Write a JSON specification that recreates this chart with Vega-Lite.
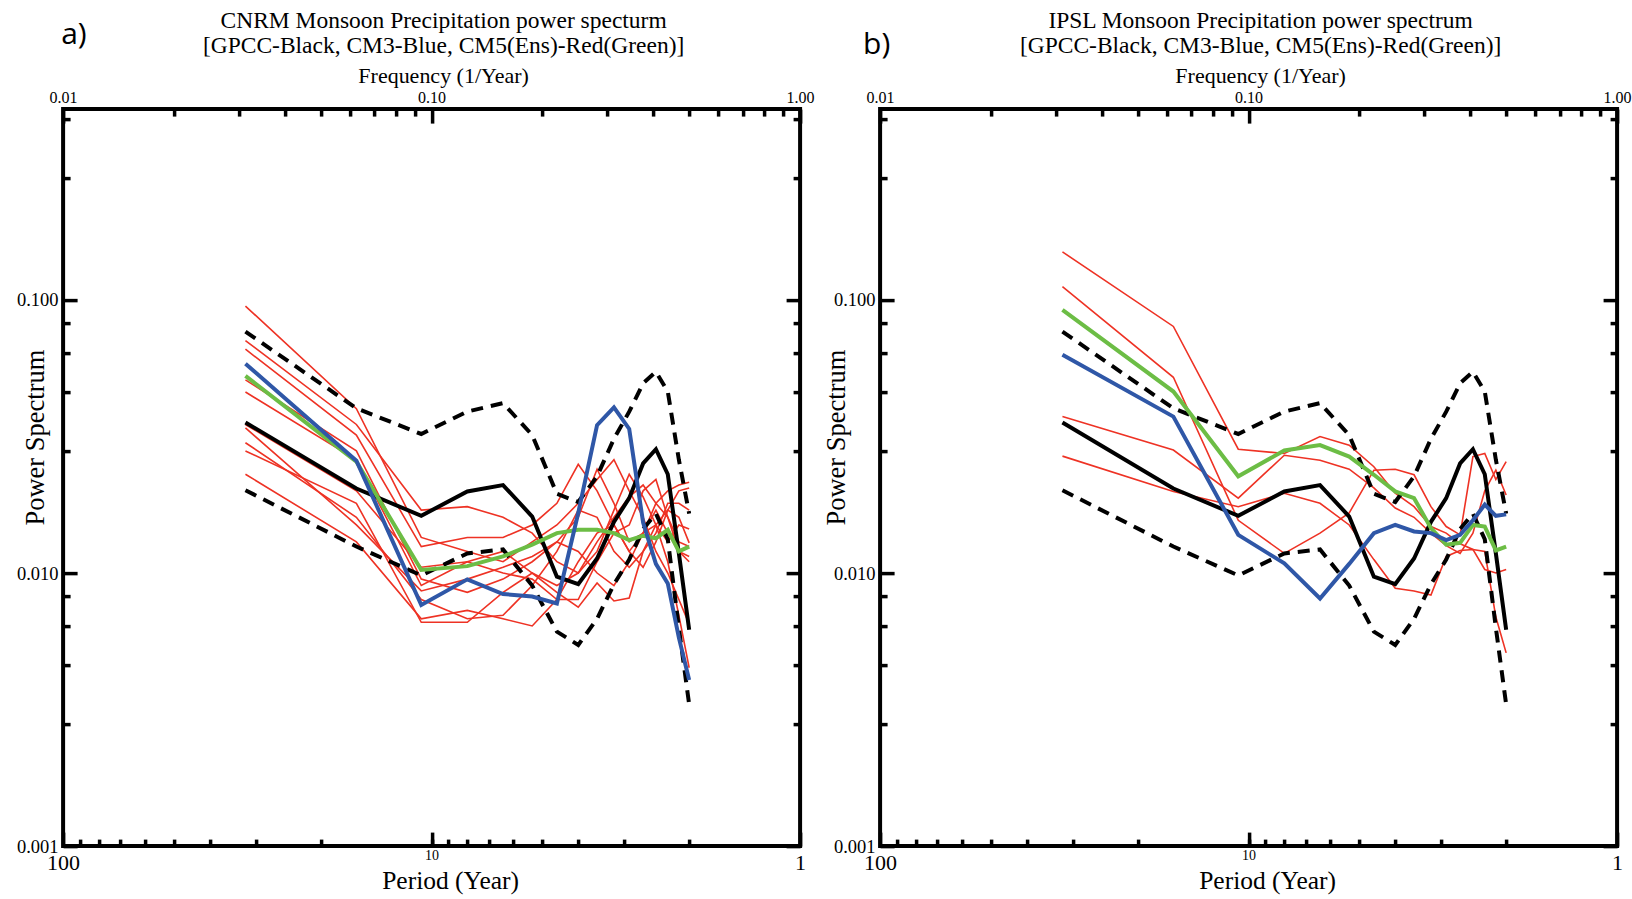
{
"$schema": "https://vega.github.io/schema/vega-lite/v6.json",
"background": "white",
"padding": {"left": 14.1, "top": 6.1, "right": 2, "bottom": 5},
"bounds": "flush",
"spacing": 80,
"config": {"view": {"stroke": "black", "strokeWidth": 4}, "axis": {"grid": false, "domain": false, "labelColor": "black", "titleColor": "black", "tickColor": "black", "titleFontWeight": "normal", "labelFlush": false, "labelOverlap": false, "labelBound": false}},
"datasets": {
"obs": [
{"series":"GPCC","period":32,"power":0.0356},{"series":"GPCC","period":16,"power":0.0204},{"series":"GPCC","period":10.667,"power":0.0162},{"series":"GPCC","period":8,"power":0.0199},{"series":"GPCC","period":6.4,"power":0.021},{"series":"GPCC","period":5.333,"power":0.0161},{"series":"GPCC","period":4.571,"power":0.0097},{"series":"GPCC","period":4,"power":0.0091},{"series":"GPCC","period":3.556,"power":0.0113},{"series":"GPCC","period":3.2,"power":0.0154},{"series":"GPCC","period":2.909,"power":0.0188},{"series":"GPCC","period":2.667,"power":0.0252},{"series":"GPCC","period":2.462,"power":0.0284},{"series":"GPCC","period":2.286,"power":0.023},{"series":"GPCC","period":2.133,"power":0.0118},{"series":"GPCC","period":2,"power":0.0062},
{"series":"Upper","period":32,"power":0.0766},{"series":"Upper","period":16,"power":0.0401},{"series":"Upper","period":10.667,"power":0.0323},{"series":"Upper","period":8,"power":0.039},{"series":"Upper","period":6.4,"power":0.0419},{"series":"Upper","period":5.333,"power":0.032},{"series":"Upper","period":4.571,"power":0.0195},{"series":"Upper","period":4,"power":0.0182},{"series":"Upper","period":3.556,"power":0.0226},{"series":"Upper","period":3.2,"power":0.031},{"series":"Upper","period":2.909,"power":0.039},{"series":"Upper","period":2.667,"power":0.0495},{"series":"Upper","period":2.462,"power":0.0546},{"series":"Upper","period":2.286,"power":0.0462},{"series":"Upper","period":2.133,"power":0.026},{"series":"Upper","period":2,"power":0.0165},
{"series":"Lower","period":32,"power":0.0201},{"series":"Lower","period":16,"power":0.0125},{"series":"Lower","period":10.667,"power":0.0098},{"series":"Lower","period":8,"power":0.0118},{"series":"Lower","period":6.4,"power":0.0122},{"series":"Lower","period":5.333,"power":0.009},{"series":"Lower","period":4.571,"power":0.0061},{"series":"Lower","period":4,"power":0.00545},{"series":"Lower","period":3.556,"power":0.0068},{"series":"Lower","period":3.2,"power":0.0091},{"series":"Lower","period":2.909,"power":0.0112},{"series":"Lower","period":2.667,"power":0.0145},{"series":"Lower","period":2.462,"power":0.0165},{"series":"Lower","period":2.286,"power":0.0133},{"series":"Lower","period":2.133,"power":0.0063},{"series":"Lower","period":2,"power":0.0033}
],
"cnrm": [
{"series":"CM3","period":32,"power":0.0584},{"series":"CM3","period":16,"power":0.0258},{"series":"CM3","period":10.667,"power":0.00764},{"series":"CM3","period":8,"power":0.00948},{"series":"CM3","period":6.4,"power":0.00838},{"series":"CM3","period":5.333,"power":0.0082},{"series":"CM3","period":4.571,"power":0.00774},{"series":"CM3","period":4,"power":0.0166},{"series":"CM3","period":3.556,"power":0.0348},{"series":"CM3","period":3.2,"power":0.0404},{"series":"CM3","period":2.909,"power":0.0337},{"series":"CM3","period":2.667,"power":0.0153},{"series":"CM3","period":2.462,"power":0.0108},{"series":"CM3","period":2.286,"power":0.00916},{"series":"CM3","period":2.133,"power":0.0058},{"series":"CM3","period":2,"power":0.00406},
{"series":"CM5 ensemble","period":32,"power":0.0527},{"series":"CM5 ensemble","period":16,"power":0.0256},{"series":"CM5 ensemble","period":10.667,"power":0.01026},{"series":"CM5 ensemble","period":8,"power":0.0106},{"series":"CM5 ensemble","period":6.4,"power":0.0115},{"series":"CM5 ensemble","period":5.333,"power":0.0127},{"series":"CM5 ensemble","period":4.571,"power":0.014},{"series":"CM5 ensemble","period":4,"power":0.0144},{"series":"CM5 ensemble","period":3.556,"power":0.0144},{"series":"CM5 ensemble","period":3.2,"power":0.014},{"series":"CM5 ensemble","period":2.909,"power":0.0132},{"series":"CM5 ensemble","period":2.667,"power":0.0137},{"series":"CM5 ensemble","period":2.462,"power":0.0134},{"series":"CM5 ensemble","period":2.286,"power":0.0144},{"series":"CM5 ensemble","period":2.133,"power":0.012},{"series":"CM5 ensemble","period":2,"power":0.0125},
{"series":"CM5 r1","period":32,"power":0.095},{"series":"CM5 r1","period":16,"power":0.04},{"series":"CM5 r1","period":10.667,"power":0.0135},{"series":"CM5 r1","period":8,"power":0.012},{"series":"CM5 r1","period":6.4,"power":0.011},{"series":"CM5 r1","period":5.333,"power":0.013},{"series":"CM5 r1","period":4.571,"power":0.015},{"series":"CM5 r1","period":4,"power":0.018},{"series":"CM5 r1","period":3.556,"power":0.022},{"series":"CM5 r1","period":3.2,"power":0.026},{"series":"CM5 r1","period":2.909,"power":0.02},{"series":"CM5 r1","period":2.667,"power":0.016},{"series":"CM5 r1","period":2.462,"power":0.012},{"series":"CM5 r1","period":2.286,"power":0.01},{"series":"CM5 r1","period":2.133,"power":0.008},{"series":"CM5 r1","period":2,"power":0.0065},
{"series":"CM5 r2","period":32,"power":0.071},{"series":"CM5 r2","period":16,"power":0.035},{"series":"CM5 r2","period":10.667,"power":0.017},{"series":"CM5 r2","period":8,"power":0.0175},{"series":"CM5 r2","period":6.4,"power":0.016},{"series":"CM5 r2","period":5.333,"power":0.014},{"series":"CM5 r2","period":4.571,"power":0.011},{"series":"CM5 r2","period":4,"power":0.01},{"series":"CM5 r2","period":3.556,"power":0.013},{"series":"CM5 r2","period":3.2,"power":0.016},{"series":"CM5 r2","period":2.909,"power":0.019},{"series":"CM5 r2","period":2.667,"power":0.021},{"series":"CM5 r2","period":2.462,"power":0.018},{"series":"CM5 r2","period":2.286,"power":0.02},{"series":"CM5 r2","period":2.133,"power":0.021},{"series":"CM5 r2","period":2,"power":0.0215},
{"series":"CM5 r3","period":32,"power":0.066},{"series":"CM5 r3","period":16,"power":0.032},{"series":"CM5 r3","period":10.667,"power":0.0125},{"series":"CM5 r3","period":8,"power":0.0135},{"series":"CM5 r3","period":6.4,"power":0.0135},{"series":"CM5 r3","period":5.333,"power":0.015},{"series":"CM5 r3","period":4.571,"power":0.018},{"series":"CM5 r3","period":4,"power":0.025},{"series":"CM5 r3","period":3.556,"power":0.02},{"series":"CM5 r3","period":3.2,"power":0.015},{"series":"CM5 r3","period":2.909,"power":0.012},{"series":"CM5 r3","period":2.667,"power":0.0105},{"series":"CM5 r3","period":2.462,"power":0.013},{"series":"CM5 r3","period":2.286,"power":0.017},{"series":"CM5 r3","period":2.133,"power":0.02},{"series":"CM5 r3","period":2,"power":0.0205},
{"series":"CM5 r4","period":32,"power":0.051},{"series":"CM5 r4","period":16,"power":0.028},{"series":"CM5 r4","period":10.667,"power":0.0095},{"series":"CM5 r4","period":8,"power":0.0085},{"series":"CM5 r4","period":6.4,"power":0.0095},{"series":"CM5 r4","period":5.333,"power":0.011},{"series":"CM5 r4","period":4.571,"power":0.013},{"series":"CM5 r4","period":4,"power":0.016},{"series":"CM5 r4","period":3.556,"power":0.024},{"series":"CM5 r4","period":3.2,"power":0.018},{"series":"CM5 r4","period":2.909,"power":0.013},{"series":"CM5 r4","period":2.667,"power":0.014},{"series":"CM5 r4","period":2.462,"power":0.017},{"series":"CM5 r4","period":2.286,"power":0.014},{"series":"CM5 r4","period":2.133,"power":0.012},{"series":"CM5 r4","period":2,"power":0.0115},
{"series":"CM5 r5","period":32,"power":0.046},{"series":"CM5 r5","period":16,"power":0.026},{"series":"CM5 r5","period":10.667,"power":0.009},{"series":"CM5 r5","period":8,"power":0.011},{"series":"CM5 r5","period":6.4,"power":0.012},{"series":"CM5 r5","period":5.333,"power":0.01},{"series":"CM5 r5","period":4.571,"power":0.009},{"series":"CM5 r5","period":4,"power":0.01},{"series":"CM5 r5","period":3.556,"power":0.012},{"series":"CM5 r5","period":3.2,"power":0.017},{"series":"CM5 r5","period":2.909,"power":0.023},{"series":"CM5 r5","period":2.667,"power":0.019},{"series":"CM5 r5","period":2.462,"power":0.015},{"series":"CM5 r5","period":2.286,"power":0.013},{"series":"CM5 r5","period":2.133,"power":0.015},{"series":"CM5 r5","period":2,"power":0.0145},
{"series":"CM5 r6","period":32,"power":0.035},{"series":"CM5 r6","period":16,"power":0.02},{"series":"CM5 r6","period":10.667,"power":0.0105},{"series":"CM5 r6","period":8,"power":0.011},{"series":"CM5 r6","period":6.4,"power":0.01},{"series":"CM5 r6","period":5.333,"power":0.0095},{"series":"CM5 r6","period":4.571,"power":0.008},{"series":"CM5 r6","period":4,"power":0.008},{"series":"CM5 r6","period":3.556,"power":0.011},{"series":"CM5 r6","period":3.2,"power":0.014},{"series":"CM5 r6","period":2.909,"power":0.015},{"series":"CM5 r6","period":2.667,"power":0.02},{"series":"CM5 r6","period":2.462,"power":0.022},{"series":"CM5 r6","period":2.286,"power":0.016},{"series":"CM5 r6","period":2.133,"power":0.012},{"series":"CM5 r6","period":2,"power":0.011},
{"series":"CM5 r7","period":32,"power":0.03},{"series":"CM5 r7","period":16,"power":0.016},{"series":"CM5 r7","period":10.667,"power":0.008},{"series":"CM5 r7","period":8,"power":0.0068},{"series":"CM5 r7","period":6.4,"power":0.007},{"series":"CM5 r7","period":5.333,"power":0.009},{"series":"CM5 r7","period":4.571,"power":0.012},{"series":"CM5 r7","period":4,"power":0.017},{"series":"CM5 r7","period":3.556,"power":0.016},{"series":"CM5 r7","period":3.2,"power":0.012},{"series":"CM5 r7","period":2.909,"power":0.0105},{"series":"CM5 r7","period":2.667,"power":0.012},{"series":"CM5 r7","period":2.462,"power":0.014},{"series":"CM5 r7","period":2.286,"power":0.018},{"series":"CM5 r7","period":2.133,"power":0.018},{"series":"CM5 r7","period":2,"power":0.017},
{"series":"CM5 r8","period":32,"power":0.028},{"series":"CM5 r8","period":16,"power":0.018},{"series":"CM5 r8","period":10.667,"power":0.0066},{"series":"CM5 r8","period":8,"power":0.0066},{"series":"CM5 r8","period":6.4,"power":0.0085},{"series":"CM5 r8","period":5.333,"power":0.01},{"series":"CM5 r8","period":4.571,"power":0.0085},{"series":"CM5 r8","period":4,"power":0.0075},{"series":"CM5 r8","period":3.556,"power":0.0092},{"series":"CM5 r8","period":3.2,"power":0.0079},{"series":"CM5 r8","period":2.909,"power":0.0081},{"series":"CM5 r8","period":2.667,"power":0.012},{"series":"CM5 r8","period":2.462,"power":0.015},{"series":"CM5 r8","period":2.286,"power":0.011},{"series":"CM5 r8","period":2.133,"power":0.007},{"series":"CM5 r8","period":2,"power":0.0045},
{"series":"CM5 r9","period":32,"power":0.023},{"series":"CM5 r9","period":16,"power":0.013},{"series":"CM5 r9","period":10.667,"power":0.0068},{"series":"CM5 r9","period":8,"power":0.0073},{"series":"CM5 r9","period":6.4,"power":0.0068},{"series":"CM5 r9","period":5.333,"power":0.0064},{"series":"CM5 r9","period":4.571,"power":0.008},{"series":"CM5 r9","period":4,"power":0.011},{"series":"CM5 r9","period":3.556,"power":0.014},{"series":"CM5 r9","period":3.2,"power":0.015},{"series":"CM5 r9","period":2.909,"power":0.012},{"series":"CM5 r9","period":2.667,"power":0.014},{"series":"CM5 r9","period":2.462,"power":0.018},{"series":"CM5 r9","period":2.286,"power":0.016},{"series":"CM5 r9","period":2.133,"power":0.013},{"series":"CM5 r9","period":2,"power":0.0125},
{"series":"CM5 r10","period":32,"power":0.034},{"series":"CM5 r10","period":16,"power":0.015},{"series":"CM5 r10","period":10.667,"power":0.0086},{"series":"CM5 r10","period":8,"power":0.0095},{"series":"CM5 r10","period":6.4,"power":0.0105},{"series":"CM5 r10","period":5.333,"power":0.0115},{"series":"CM5 r10","period":4.571,"power":0.013},{"series":"CM5 r10","period":4,"power":0.012},{"series":"CM5 r10","period":3.556,"power":0.01},{"series":"CM5 r10","period":3.2,"power":0.009},{"series":"CM5 r10","period":2.909,"power":0.011},{"series":"CM5 r10","period":2.667,"power":0.014},{"series":"CM5 r10","period":2.462,"power":0.015},{"series":"CM5 r10","period":2.286,"power":0.017},{"series":"CM5 r10","period":2.133,"power":0.016},{"series":"CM5 r10","period":2,"power":0.0129}
],
"ipsl": [
{"series":"CM3","period":32,"power":0.063},{"series":"CM3","period":16,"power":0.0374},{"series":"CM3","period":10.667,"power":0.0138},{"series":"CM3","period":8,"power":0.01085},{"series":"CM3","period":6.4,"power":0.00807},{"series":"CM3","period":5.333,"power":0.0108},{"series":"CM3","period":4.571,"power":0.014},{"series":"CM3","period":4,"power":0.015},{"series":"CM3","period":3.556,"power":0.0142},{"series":"CM3","period":3.2,"power":0.014},{"series":"CM3","period":2.909,"power":0.0132},{"series":"CM3","period":2.667,"power":0.0138},{"series":"CM3","period":2.462,"power":0.0156},{"series":"CM3","period":2.286,"power":0.0178},{"series":"CM3","period":2.133,"power":0.0162},{"series":"CM3","period":2,"power":0.0164},
{"series":"CM5 ensemble","period":32,"power":0.0919},{"series":"CM5 ensemble","period":16,"power":0.0462},{"series":"CM5 ensemble","period":10.667,"power":0.0226},{"series":"CM5 ensemble","period":8,"power":0.0281},{"series":"CM5 ensemble","period":6.4,"power":0.0294},{"series":"CM5 ensemble","period":5.333,"power":0.0267},{"series":"CM5 ensemble","period":4.571,"power":0.0229},{"series":"CM5 ensemble","period":4,"power":0.0199},{"series":"CM5 ensemble","period":3.556,"power":0.0188},{"series":"CM5 ensemble","period":3.2,"power":0.0146},{"series":"CM5 ensemble","period":2.909,"power":0.0127},{"series":"CM5 ensemble","period":2.667,"power":0.0129},{"series":"CM5 ensemble","period":2.462,"power":0.015},{"series":"CM5 ensemble","period":2.286,"power":0.0148},{"series":"CM5 ensemble","period":2.133,"power":0.0121},{"series":"CM5 ensemble","period":2,"power":0.0125},
{"series":"CM5 r1","period":32,"power":0.15},{"series":"CM5 r1","period":16,"power":0.08},{"series":"CM5 r1","period":10.667,"power":0.0284},{"series":"CM5 r1","period":8,"power":0.0274},{"series":"CM5 r1","period":6.4,"power":0.0316},{"series":"CM5 r1","period":5.333,"power":0.0294},{"series":"CM5 r1","period":4.571,"power":0.0245},{"series":"CM5 r1","period":4,"power":0.0196},{"series":"CM5 r1","period":3.556,"power":0.0175},{"series":"CM5 r1","period":3.2,"power":0.0148},{"series":"CM5 r1","period":2.909,"power":0.014},{"series":"CM5 r1","period":2.667,"power":0.0128},{"series":"CM5 r1","period":2.462,"power":0.0122},{"series":"CM5 r1","period":2.286,"power":0.0103},{"series":"CM5 r1","period":2.133,"power":0.01},{"series":"CM5 r1","period":2,"power":0.0103},
{"series":"CM5 r2","period":32,"power":0.112},{"series":"CM5 r2","period":16,"power":0.0521},{"series":"CM5 r2","period":10.667,"power":0.0156},{"series":"CM5 r2","period":8,"power":0.0118},{"series":"CM5 r2","period":6.4,"power":0.014},{"series":"CM5 r2","period":5.333,"power":0.0166},{"series":"CM5 r2","period":4.571,"power":0.0238},{"series":"CM5 r2","period":4,"power":0.024},{"series":"CM5 r2","period":3.556,"power":0.0229},{"series":"CM5 r2","period":3.2,"power":0.0175},{"series":"CM5 r2","period":2.909,"power":0.0148},{"series":"CM5 r2","period":2.667,"power":0.0138},{"series":"CM5 r2","period":2.462,"power":0.0267},{"series":"CM5 r2","period":2.286,"power":0.0274},{"series":"CM5 r2","period":2.133,"power":0.022},{"series":"CM5 r2","period":2,"power":0.0256},
{"series":"CM5 r3","period":32,"power":0.0374},{"series":"CM5 r3","period":16,"power":0.0282},{"series":"CM5 r3","period":10.667,"power":0.0188},{"series":"CM5 r3","period":8,"power":0.027},{"series":"CM5 r3","period":6.4,"power":0.0259},{"series":"CM5 r3","period":5.333,"power":0.024},{"series":"CM5 r3","period":4.571,"power":0.0205},{"series":"CM5 r3","period":4,"power":0.0173},{"series":"CM5 r3","period":3.556,"power":0.016},{"series":"CM5 r3","period":3.2,"power":0.014},{"series":"CM5 r3","period":2.909,"power":0.0126},{"series":"CM5 r3","period":2.667,"power":0.0118},{"series":"CM5 r3","period":2.462,"power":0.014},{"series":"CM5 r3","period":2.286,"power":0.02},{"series":"CM5 r3","period":2.133,"power":0.0238},{"series":"CM5 r3","period":2,"power":0.0193},
{"series":"CM5 r4","period":32,"power":0.0268},{"series":"CM5 r4","period":16,"power":0.0199},{"series":"CM5 r4","period":10.667,"power":0.0175},{"series":"CM5 r4","period":8,"power":0.0196},{"series":"CM5 r4","period":6.4,"power":0.018},{"series":"CM5 r4","period":5.333,"power":0.015},{"series":"CM5 r4","period":4.571,"power":0.0112},{"series":"CM5 r4","period":4,"power":0.0088},{"series":"CM5 r4","period":3.556,"power":0.0086},{"series":"CM5 r4","period":3.2,"power":0.0083},{"series":"CM5 r4","period":2.909,"power":0.0115},{"series":"CM5 r4","period":2.667,"power":0.0121},{"series":"CM5 r4","period":2.462,"power":0.0122},{"series":"CM5 r4","period":2.286,"power":0.012},{"series":"CM5 r4","period":2.133,"power":0.0069},{"series":"CM5 r4","period":2,"power":0.0051}
]
},
"hconcat": [
{
"width": 737, "height": 737,
"resolve": {"axis": {"x": "independent", "y": "independent"}},
"layer": [
{"data": {"name": "cnrm"}, "transform": [{"filter": "indexof(datum.series, 'CM5 r') == 0"}], "mark": {"type": "line", "color": "#EE3224", "strokeWidth": 1.6}, "encoding": {"x": {"field": "period", "type": "quantitative", "scale": {"type": "log", "domain": [1, 100], "reverse": true, "nice": false}, "axis": null}, "y": {"field": "power", "type": "quantitative", "scale": {"type": "log", "domain": [0.001, 0.5], "nice": false}, "axis": null}, "detail": {"field": "series"}}},
{"data": {"name": "obs"}, "transform": [{"filter": "datum.series != 'GPCC'"}], "mark": {"type": "line", "color": "black", "strokeWidth": 4, "strokeDash": [12, 8]}, "encoding": {"x": {"field": "period", "type": "quantitative", "scale": {"type": "log", "domain": [1, 100], "reverse": true, "nice": false}, "axis": null}, "y": {"field": "power", "type": "quantitative", "scale": {"type": "log", "domain": [0.001, 0.5], "nice": false}, "axis": null}, "detail": {"field": "series"}}},
{"data": {"name": "obs"}, "transform": [{"filter": "datum.series == 'GPCC'"}], "mark": {"type": "line", "color": "black", "strokeWidth": 4}, "encoding": {"x": {"field": "period", "type": "quantitative", "scale": {"type": "log", "domain": [1, 100], "reverse": true, "nice": false}, "axis": null}, "y": {"field": "power", "type": "quantitative", "scale": {"type": "log", "domain": [0.001, 0.5], "nice": false}, "axis": null}}},
{"data": {"name": "cnrm"}, "transform": [{"filter": "datum.series == 'CM5 ensemble'"}], "mark": {"type": "line", "color": "#6CBD45", "strokeWidth": 4}, "encoding": {"x": {"field": "period", "type": "quantitative", "scale": {"type": "log", "domain": [1, 100], "reverse": true, "nice": false}, "axis": null}, "y": {"field": "power", "type": "quantitative", "scale": {"type": "log", "domain": [0.001, 0.5], "nice": false}, "axis": null}}},
{"data": {"name": "cnrm"}, "transform": [{"filter": "datum.series == 'CM3'"}], "mark": {"type": "line", "color": "#2F57A7", "strokeWidth": 4}, "encoding": {"x": {"field": "period", "type": "quantitative", "scale": {"type": "log", "domain": [1, 100], "reverse": true, "nice": false}, "axis": null}, "y": {"field": "power", "type": "quantitative", "scale": {"type": "log", "domain": [0.001, 0.5], "nice": false}, "axis": null}}},
{"data": {"name": "obs"}, "mark": {"type": "point", "opacity": 0}, "encoding": {
 "x": {"field": "period", "type": "quantitative", "scale": {"type": "log", "domain": [1, 100], "reverse": true, "nice": false}, "axis": {"orient": "bottom", "values": [100, 10, 1], "tickSize": -14, "tickWidth": 3.5, "labelExpr": "datum.value == 100 ? '100' : datum.value == 10 ? '' : '1'", "labelFont": "Liberation Serif", "labelFontSize": 22, "labelBaseline": "alphabetic", "labelPadding": 37.5, "title": "Period (Year)", "titleFont": "Liberation Serif", "titleFontSize": 25.5, "titleX": 387, "titleY": 42.5, "titleBaseline": "alphabetic", "titleAlign": "center"}},
 "y": {"field": "power", "type": "quantitative", "scale": {"type": "log", "domain": [0.001, 0.5], "nice": false}, "axis": {"orient": "left", "values": [0.001, 0.01, 0.1], "format": ".3f", "tickSize": -14, "tickWidth": 3.5, "labelFont": "Liberation Serif", "labelFontSize": 18.5, "labelPadding": 19, "labelBaseline": "middle", "title": "Power Spectrum", "titleFont": "Liberation Serif", "titleFontSize": 26.5, "titleX": -28, "titleY": 328, "titleAngle": -90, "titleBaseline": "middle", "titleAlign": "center"}}}},
{"data": {"name": "obs"}, "mark": {"type": "point", "opacity": 0}, "encoding": {
 "x": {"field": "period", "type": "quantitative", "scale": {"type": "log", "domain": [1, 100], "reverse": true, "nice": false}, "axis": {"orient": "bottom", "values": [90, 80, 70, 60, 50, 40, 30, 20, 10, 9, 8, 7, 6, 5, 4, 3, 2], "tickSize": -7, "tickWidth": 3.5, "labels": true, "labelExpr": "datum.value == 10 ? '10' : ''", "labelFont": "Liberation Serif", "labelFontSize": 14, "labelBaseline": "alphabetic", "labelPadding": 20, "title": null}},
 "y": {"field": "power", "type": "quantitative", "scale": {"type": "log", "domain": [0.001, 0.5], "nice": false}, "axis": {"orient": "left", "values": [0.46, 0.28, 0.082, 0.064, 0.046, 0.028, 0.0082, 0.0064, 0.0046, 0.0028], "tickSize": -7, "tickWidth": 3.5, "labels": false, "title": null}}}},
{"data": {"name": "obs"}, "mark": {"type": "point", "opacity": 0}, "encoding": {
 "x": {"field": "period", "type": "quantitative", "scale": {"type": "log", "domain": [1, 100], "reverse": true, "nice": false}, "axis": {"orient": "top", "values": [100, 10, 1], "tickSize": -14, "tickWidth": 3.5, "labelExpr": "datum.value == 100 ? '0.01' : datum.value == 10 ? '0.10' : '1.00'", "labelFont": "Liberation Serif", "labelFontSize": 16, "labelBaseline": "alphabetic", "labelPadding": 20.3, "title": "Frequency (1/Year)", "titleFont": "Liberation Serif", "titleFontSize": 22, "titleX": 380, "titleY": -26.5, "titleBaseline": "alphabetic", "titleAlign": "center"}},
 "y": {"field": "power", "type": "quantitative", "scale": {"type": "log", "domain": [0.001, 0.5], "nice": false}, "axis": {"orient": "right", "values": [0.001, 0.01, 0.1], "tickSize": -14, "tickWidth": 3.5, "labels": false, "title": null}}}},
{"data": {"name": "obs"}, "mark": {"type": "point", "opacity": 0}, "encoding": {
 "x": {"field": "period", "type": "quantitative", "scale": {"type": "log", "domain": [1, 100], "reverse": true, "nice": false}, "axis": {"orient": "top", "values": [50, 33.333, 25, 20, 16.667, 14.286, 12.5, 11.111, 5, 3.333, 2.5, 2, 1.667, 1.429, 1.25, 1.111], "tickSize": -7, "tickWidth": 3.5, "labels": false, "title": ["CNRM Monsoon Precipitation power specturm", "[GPCC-Black, CM3-Blue, CM5(Ens)-Red(Green)]"], "titleFont": "Liberation Serif", "titleFontSize": 23.5, "titleLineHeight": 25, "titleX": 380, "titleY": -81.5, "titleBaseline": "alphabetic", "titleAlign": "center"}},
 "y": {"field": "power", "type": "quantitative", "scale": {"type": "log", "domain": [0.001, 0.5], "nice": false}, "axis": {"orient": "right", "values": [0.46, 0.28, 0.082, 0.064, 0.046, 0.028, 0.0082, 0.0064, 0.0046, 0.0028], "tickSize": -7, "tickWidth": 3.5, "labels": false, "title": null}}}},
{"data": {"name": "obs"}, "mark": {"type": "point", "opacity": 0}, "encoding": {
 "x": {"field": "period", "type": "quantitative", "scale": {"type": "log", "domain": [1, 100], "reverse": true, "nice": false}, "axis": {"orient": "top", "ticks": false, "labels": false, "title": "a)", "titleFont": "Open Sans", "titleFontSize": 30, "titleX": -2.4, "titleY": -65.3, "titleBaseline": "alphabetic", "titleAlign": "left"}},
 "y": {"field": "power", "type": "quantitative", "scale": {"type": "log", "domain": [0.001, 0.5], "nice": false}, "axis": null}}}
]
},
{
"width": 737, "height": 737,
"resolve": {"axis": {"x": "independent", "y": "independent"}},
"layer": [
{"data": {"name": "ipsl"}, "transform": [{"filter": "indexof(datum.series, 'CM5 r') == 0"}], "mark": {"type": "line", "color": "#EE3224", "strokeWidth": 1.6}, "encoding": {"x": {"field": "period", "type": "quantitative", "scale": {"type": "log", "domain": [1, 100], "reverse": true, "nice": false}, "axis": null}, "y": {"field": "power", "type": "quantitative", "scale": {"type": "log", "domain": [0.001, 0.5], "nice": false}, "axis": null}, "detail": {"field": "series"}}},
{"data": {"name": "obs"}, "transform": [{"filter": "datum.series != 'GPCC'"}], "mark": {"type": "line", "color": "black", "strokeWidth": 4, "strokeDash": [12, 8]}, "encoding": {"x": {"field": "period", "type": "quantitative", "scale": {"type": "log", "domain": [1, 100], "reverse": true, "nice": false}, "axis": null}, "y": {"field": "power", "type": "quantitative", "scale": {"type": "log", "domain": [0.001, 0.5], "nice": false}, "axis": null}, "detail": {"field": "series"}}},
{"data": {"name": "obs"}, "transform": [{"filter": "datum.series == 'GPCC'"}], "mark": {"type": "line", "color": "black", "strokeWidth": 4}, "encoding": {"x": {"field": "period", "type": "quantitative", "scale": {"type": "log", "domain": [1, 100], "reverse": true, "nice": false}, "axis": null}, "y": {"field": "power", "type": "quantitative", "scale": {"type": "log", "domain": [0.001, 0.5], "nice": false}, "axis": null}}},
{"data": {"name": "ipsl"}, "transform": [{"filter": "datum.series == 'CM5 ensemble'"}], "mark": {"type": "line", "color": "#6CBD45", "strokeWidth": 4}, "encoding": {"x": {"field": "period", "type": "quantitative", "scale": {"type": "log", "domain": [1, 100], "reverse": true, "nice": false}, "axis": null}, "y": {"field": "power", "type": "quantitative", "scale": {"type": "log", "domain": [0.001, 0.5], "nice": false}, "axis": null}}},
{"data": {"name": "ipsl"}, "transform": [{"filter": "datum.series == 'CM3'"}], "mark": {"type": "line", "color": "#2F57A7", "strokeWidth": 4}, "encoding": {"x": {"field": "period", "type": "quantitative", "scale": {"type": "log", "domain": [1, 100], "reverse": true, "nice": false}, "axis": null}, "y": {"field": "power", "type": "quantitative", "scale": {"type": "log", "domain": [0.001, 0.5], "nice": false}, "axis": null}}},
{"data": {"name": "obs"}, "mark": {"type": "point", "opacity": 0}, "encoding": {
 "x": {"field": "period", "type": "quantitative", "scale": {"type": "log", "domain": [1, 100], "reverse": true, "nice": false}, "axis": {"orient": "bottom", "values": [100, 10, 1], "tickSize": -14, "tickWidth": 3.5, "labelExpr": "datum.value == 100 ? '100' : datum.value == 10 ? '' : '1'", "labelFont": "Liberation Serif", "labelFontSize": 22, "labelBaseline": "alphabetic", "labelPadding": 37.5, "title": "Period (Year)", "titleFont": "Liberation Serif", "titleFontSize": 25.5, "titleX": 387, "titleY": 42.5, "titleBaseline": "alphabetic", "titleAlign": "center"}},
 "y": {"field": "power", "type": "quantitative", "scale": {"type": "log", "domain": [0.001, 0.5], "nice": false}, "axis": {"orient": "left", "values": [0.001, 0.01, 0.1], "format": ".3f", "tickSize": -14, "tickWidth": 3.5, "labelFont": "Liberation Serif", "labelFontSize": 18.5, "labelPadding": 19, "labelBaseline": "middle", "title": "Power Spectrum", "titleFont": "Liberation Serif", "titleFontSize": 26.5, "titleX": -44, "titleY": 328, "titleAngle": -90, "titleBaseline": "middle", "titleAlign": "center"}}}},
{"data": {"name": "obs"}, "mark": {"type": "point", "opacity": 0}, "encoding": {
 "x": {"field": "period", "type": "quantitative", "scale": {"type": "log", "domain": [1, 100], "reverse": true, "nice": false}, "axis": {"orient": "bottom", "values": [90, 80, 70, 60, 50, 40, 30, 20, 10, 9, 8, 7, 6, 5, 4, 3, 2], "tickSize": -7, "tickWidth": 3.5, "labels": true, "labelExpr": "datum.value == 10 ? '10' : ''", "labelFont": "Liberation Serif", "labelFontSize": 14, "labelBaseline": "alphabetic", "labelPadding": 20, "title": null}},
 "y": {"field": "power", "type": "quantitative", "scale": {"type": "log", "domain": [0.001, 0.5], "nice": false}, "axis": {"orient": "left", "values": [0.46, 0.28, 0.082, 0.064, 0.046, 0.028, 0.0082, 0.0064, 0.0046, 0.0028], "tickSize": -7, "tickWidth": 3.5, "labels": false, "title": null}}}},
{"data": {"name": "obs"}, "mark": {"type": "point", "opacity": 0}, "encoding": {
 "x": {"field": "period", "type": "quantitative", "scale": {"type": "log", "domain": [1, 100], "reverse": true, "nice": false}, "axis": {"orient": "top", "values": [100, 10, 1], "tickSize": -14, "tickWidth": 3.5, "labelExpr": "datum.value == 100 ? '0.01' : datum.value == 10 ? '0.10' : '1.00'", "labelFont": "Liberation Serif", "labelFontSize": 16, "labelBaseline": "alphabetic", "labelPadding": 20.3, "title": "Frequency (1/Year)", "titleFont": "Liberation Serif", "titleFontSize": 22, "titleX": 380, "titleY": -26.5, "titleBaseline": "alphabetic", "titleAlign": "center"}},
 "y": {"field": "power", "type": "quantitative", "scale": {"type": "log", "domain": [0.001, 0.5], "nice": false}, "axis": {"orient": "right", "values": [0.001, 0.01, 0.1], "tickSize": -14, "tickWidth": 3.5, "labels": false, "title": null}}}},
{"data": {"name": "obs"}, "mark": {"type": "point", "opacity": 0}, "encoding": {
 "x": {"field": "period", "type": "quantitative", "scale": {"type": "log", "domain": [1, 100], "reverse": true, "nice": false}, "axis": {"orient": "top", "values": [50, 33.333, 25, 20, 16.667, 14.286, 12.5, 11.111, 5, 3.333, 2.5, 2, 1.667, 1.429, 1.25, 1.111], "tickSize": -7, "tickWidth": 3.5, "labels": false, "title": ["IPSL Monsoon Precipitation power spectrum", "[GPCC-Black, CM3-Blue, CM5(Ens)-Red(Green)]"], "titleFont": "Liberation Serif", "titleFontSize": 23.5, "titleLineHeight": 25, "titleX": 380, "titleY": -81.5, "titleBaseline": "alphabetic", "titleAlign": "center"}},
 "y": {"field": "power", "type": "quantitative", "scale": {"type": "log", "domain": [0.001, 0.5], "nice": false}, "axis": {"orient": "right", "values": [0.46, 0.28, 0.082, 0.064, 0.046, 0.028, 0.0082, 0.0064, 0.0046, 0.0028], "tickSize": -7, "tickWidth": 3.5, "labels": false, "title": null}}}},
{"data": {"name": "obs"}, "mark": {"type": "point", "opacity": 0}, "encoding": {
 "x": {"field": "period", "type": "quantitative", "scale": {"type": "log", "domain": [1, 100], "reverse": true, "nice": false}, "axis": {"orient": "top", "ticks": false, "labels": false, "title": "b)", "titleFont": "Open Sans", "titleFontSize": 30, "titleX": -17.5, "titleY": -55.3, "titleBaseline": "alphabetic", "titleAlign": "left"}},
 "y": {"field": "power", "type": "quantitative", "scale": {"type": "log", "domain": [0.001, 0.5], "nice": false}, "axis": null}}}
]
}
]
}
